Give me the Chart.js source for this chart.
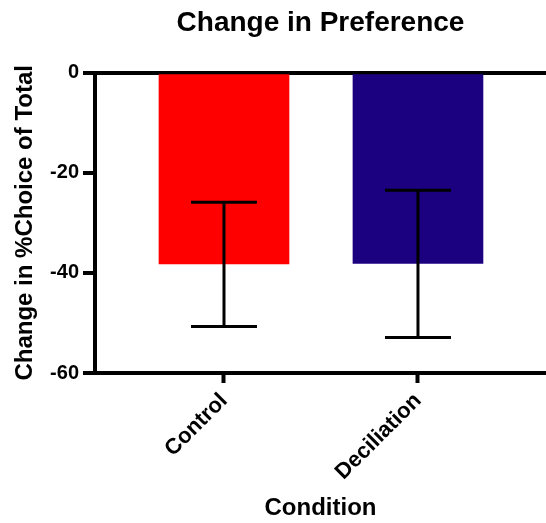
<!DOCTYPE html>
<html>
<head>
<meta charset="utf-8">
<script src="https://cdn.jsdelivr.net/npm/chart.js@4"></script>
<style>
  body { margin: 0; background: #fff; }
  #wrap { width: 546px; height: 523px; }
</style>
</head>
<body>
<div id="wrap"><canvas id="myChart"></canvas></div>
<script>
var categories = ['Control', 'Deciliation'];
var means = [-38.2, -38.1];
var errTop = [-25.9, -23.5];
var errBottom = [-50.7, -52.9];
var barColors = ['#ff0000', '#1b007f'];
var yTicks = [0, -20, -40, -60];

var font = 'Liberation Sans, Arial, Helvetica, sans-serif';

// error bars drawn on top of the bars
var errorBars = {
  id: 'errorBars',
  afterDatasetsDraw: function(chart) {
    var ctx = chart.ctx;
    var xs = chart.scales.x, ys = chart.scales.y;
    ctx.save();
    ctx.strokeStyle = '#000';
    ctx.lineWidth = 3;
    for (var i = 0; i < categories.length; i++) {
      var x = xs.getPixelForValue(i);
      var y1 = ys.getPixelForValue(errTop[i]);
      var y2 = ys.getPixelForValue(errBottom[i]);
      ctx.beginPath();
      ctx.moveTo(x, y1); ctx.lineTo(x, y2);
      ctx.moveTo(x - 33, y1); ctx.lineTo(x + 33, y1);
      ctx.moveTo(x - 33, y2); ctx.lineTo(x + 33, y2);
      ctx.stroke();
    }
    ctx.restore();
  }
};

var ctx = document.getElementById('myChart').getContext('2d');
var myChart = new Chart(ctx, {
  type: 'bar',
  data: {
    datasets: [{
      data: means.map(function(m, i) { return { x: i, y: m }; }),
      backgroundColor: barColors,
      barThickness: 130
    }]
  },
  plugins: [errorBars],
  options: {
    responsive: true,
    maintainAspectRatio: false,
    animation: false,
    layout: { padding: 0 },
    plugins: {
      legend: { display: false },
      tooltip: { enabled: false },
      title: {
        display: true,
        text: 'Change in Preference',
        fullSize: false,
        color: '#000',
        font: { family: font, size: 28, weight: 'bold' },
        padding: { top: 6, bottom: 33 }
      }
    },
    scales: {
      x: {
        type: 'linear',
        offset: false,
        min: -0.665,
        max: 1.66,
        afterBuildTicks: function(scale) {
          scale.ticks = categories.map(function(c, i) { return { value: i }; });
        },
        afterFit: function(scale) { scale.height = 150; },
        ticks: {
          color: '#000',
          font: { family: font, size: 22, weight: 'bold' },
          minRotation: 45,
          maxRotation: 45,
          padding: 5,
          callback: function(v) { return categories[v]; }
        },
        grid: {
          offset: false,
          drawOnChartArea: false,
          color: '#000',
          tickLength: 10,
          tickWidth: 4
        },
        border: { color: '#000', width: 4 },
        title: {
          display: true,
          text: 'Condition',
          color: '#000',
          font: { family: font, size: 24, weight: 'bold' },
          padding: { top: 4, bottom: 0 }
        }
      },
      y: {
        min: -60,
        max: 0,
        afterBuildTicks: function(scale) {
          scale.ticks = yTicks.map(function(v) { return { value: v }; });
        },
        afterFit: function(scale) { scale.width = 95; },
        ticks: {
          color: '#000',
          font: { family: font, size: 20, weight: 'bold' },
          padding: 4
        },
        grid: {
          color: function(c) { return c.tick && c.tick.value === 0 ? '#000' : 'rgba(0,0,0,0)'; },
          lineWidth: 4,
          tickColor: '#000',
          tickLength: 12,
          tickWidth: 4
        },
        border: { color: '#000', width: 4 },
        title: {
          display: true,
          text: 'Change in %Choice of Total',
          color: '#000',
          font: { family: font, size: 24, weight: 'bold' },
          padding: { top: 11, bottom: 4 }
        }
      }
    }
  }
});
</script>
</body>
</html>
